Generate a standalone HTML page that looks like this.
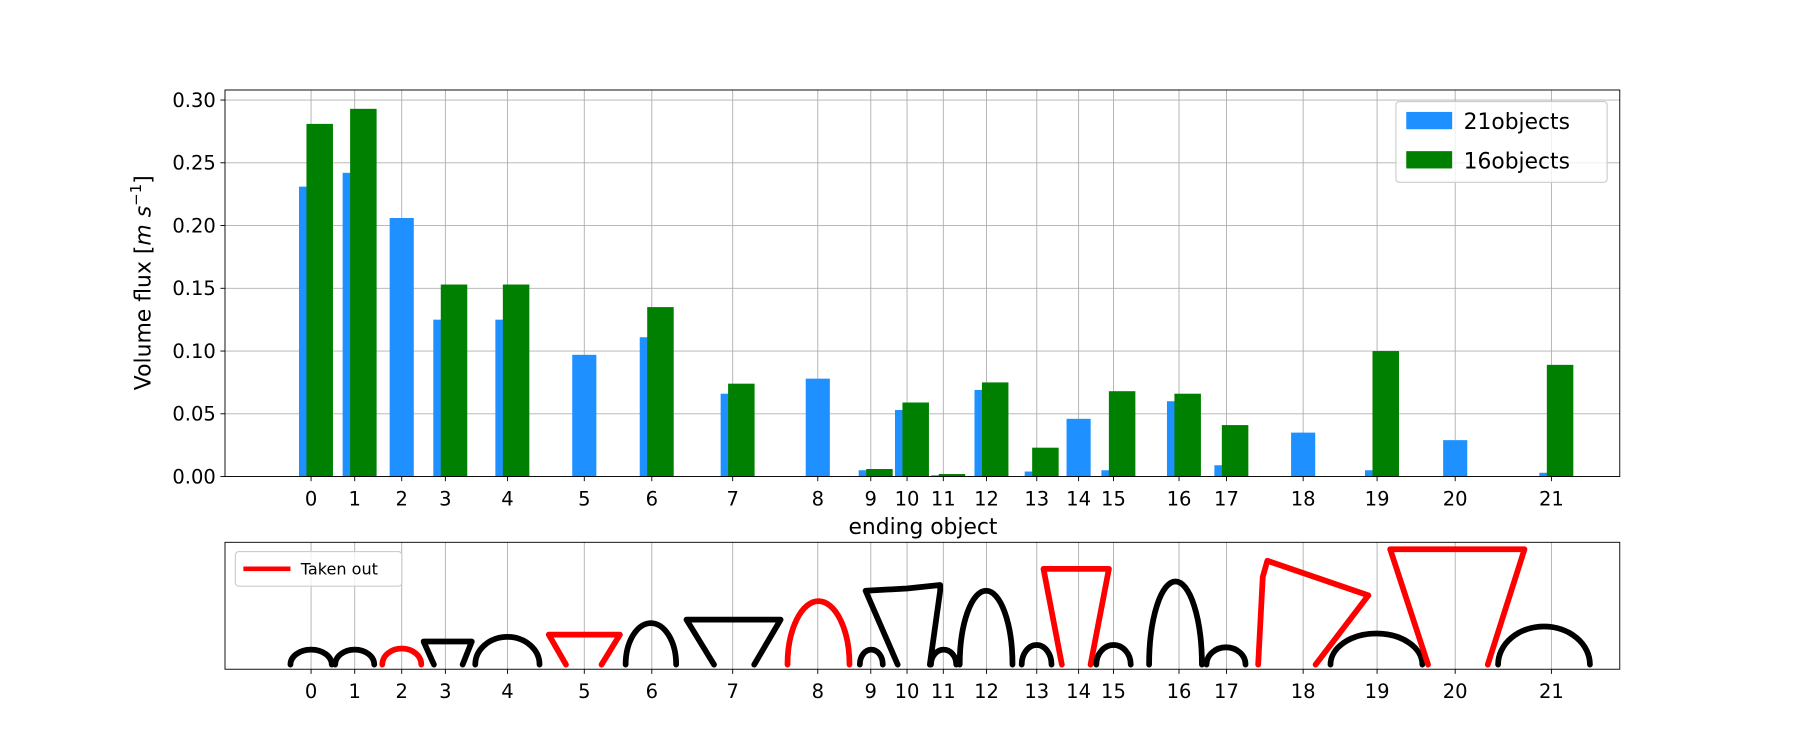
<!DOCTYPE html>
<html><head><meta charset="utf-8"><style>
html,body{margin:0;padding:0;background:#fff}
svg{display:block;font-family:"DejaVu Sans","Liberation Sans",sans-serif}
</style></head><body>
<svg id="chart" width="1800" height="750" viewBox="0 0 1568 650" preserveAspectRatio="none" xmlns="http://www.w3.org/2000/svg">
<g id="topPanel"></g>
<g id="botPanel"></g>
</svg>
<script>
const categories=[0,1,2,3,4,5,6,7,8,9,10,11,12,13,14,15,16,17,18,19,20,21];
const positions=[6.17,9.30,12.67,15.8,20.25,25.76,30.6,36.4,42.5,46.3,48.9,51.5,54.6,58.2,61.2,63.7,68.4,71.8,77.3,82.6,88.2,95.1];
const blueValues=[0.231,0.242,0.206,0.125,0.125,0.097,0.111,0.066,0.078,0.005,0.053,0.001,0.069,0.004,0.046,0.005,0.060,0.009,0.035,0.005,0.029,0.003];
const greenValues=[0.281,0.293,null,0.153,0.153,null,0.135,0.074,null,0.006,0.059,0.002,0.075,0.023,null,0.068,0.066,0.041,null,0.100,null,0.089];
const yTicks=[0,0.05,0.10,0.15,0.20,0.25,0.30];
const yTickLabels=["0.00","0.05","0.10","0.15","0.20","0.25","0.30"];
const takenOut=[2,5,8,14,18,20];
const NS="http://www.w3.org/2000/svg";
function mk(parent,tag,attrs,text){const e=document.createElementNS(NS,tag);for(const k in attrs)e.setAttribute(k,attrs[k]);if(text!==undefined)e.textContent=text;parent.appendChild(e);return e;}
const L=196,R=1411,T=78,B=413,YMAX=0.308;
const xs=p=>L+p/100*(R-L);
const ys=v=>B-v/YMAX*(B-T);
const topG=document.getElementById('topPanel');
yTicks.forEach((v,i)=>{
  const g=mk(topG,'line',{x1:L,x2:R,y1:ys(v),y2:ys(v),stroke:'#b0b0b0','stroke-width':0.8});
  
  
  mk(topG,'line',{x1:L-4,x2:L,y1:ys(v),y2:ys(v),stroke:'#000','stroke-width':0.8});
  const t=mk(topG,'text',{x:L-8,y:ys(v)+6,'text-anchor':'end','font-size':17},yTickLabels[i]);
  
  
});
categories.forEach((c,i)=>{
  const g=mk(topG,'line',{x1:xs(positions[i]),x2:xs(positions[i]),y1:T,y2:B,stroke:'#b0b0b0','stroke-width':0.8});
  
  
  mk(topG,'line',{x1:xs(positions[i]),x2:xs(positions[i]),y1:B,y2:B+4,stroke:'#000','stroke-width':0.8});
  const t=mk(topG,'text',{x:xs(positions[i]),y:B+25,'text-anchor':'middle','font-size':17},String(c));
  
  
});
const BW=1.73,GW=1.9,GOFF=0.62;
categories.forEach((c,i)=>{
  const b=blueValues[i];
  if(b!=null){const r=mk(topG,'rect',{x:xs(positions[i]-BW/2),y:ys(b),width:xs(BW)-L,height:B-ys(b),fill:'#1e90ff'});
    
    }
  const g=greenValues[i];
  if(g!=null){const r=mk(topG,'rect',{x:xs(positions[i]+GOFF-GW/2),y:ys(g),width:xs(GW)-L,height:B-ys(g),fill:'#008000'});
    
    }
});
mk(topG,'rect',{x:L,y:T,width:R-L,height:B-T,fill:'none',stroke:'#000','stroke-width':0.8});
const yl=mk(topG,'text',{transform:'translate(131,245) rotate(-90)','text-anchor':'middle','font-size':19});
mk(yl,'tspan',{},'Volume flux [');
mk(yl,'tspan',{'font-style':'italic'},'m s');
mk(yl,'tspan',{dy:-8,'font-size':13},'−1');
mk(yl,'tspan',{dy:8},']');


const xl=mk(topG,'text',{x:804,y:463,'text-anchor':'middle','font-size':19},'ending object');


const lg=mk(topG,'g',{});


mk(lg,'rect',{x:1216,y:88,width:184,height:70,rx:3,fill:'#fff','fill-opacity':0.8,stroke:'#ccc'});
mk(lg,'rect',{x:1225,y:97,width:40,height:15,fill:'#1e90ff'});
mk(lg,'text',{x:1275,y:112,'font-size':19},'21objects');
mk(lg,'rect',{x:1225,y:131,width:40,height:15,fill:'#008000'});
mk(lg,'text',{x:1275,y:146,'font-size':19},'16objects');

const botG=document.getElementById('botPanel');
const BT=470,BB=580,BASE=576;
categories.forEach((c,i)=>{
  mk(botG,'line',{x1:xs(positions[i]),x2:xs(positions[i]),y1:BT,y2:BB,stroke:'#b0b0b0','stroke-width':0.8});
  mk(botG,'line',{x1:xs(positions[i]),x2:xs(positions[i]),y1:BB,y2:BB+4,stroke:'#000','stroke-width':0.8});
  const t=mk(botG,'text',{x:xs(positions[i]),y:BB+25,'text-anchor':'middle','font-size':17},String(c));
  
  
});
const arc=(cx,w,h)=>`M${cx-w/2},${BASE} A${w/2},${h} 0 0 1 ${cx+w/2},${BASE}`;
const trap=(tl,tr,ty,bl,br)=>`M${bl},${BASE} L${tl},${ty} L${tr},${ty} L${br},${BASE}`;
const shapes=[arc(271,36,13),arc(309,34,13),arc(350,34,14),trap(369,411,556,378,403),arc(442,56,24),
trap(478,540,550,493,524),arc(567,44,36),trap(598,680,537,622,657),arc(713,54,55),arc(759,20,13),
'M810,576 L819,512 L819,507 L790,510 L754,512 L782,576',arc(822,22,13),arc(859,46,64),arc(903,26,17),
trap(909,966,493,925,950),arc(970,30,17),arc(1024,46,72),arc(1068,34,15),
'M1096,576 L1100,500 L1104,486 L1192,516 L1146,576',arc(1199,80,27),trap(1211,1328,476,1244,1296),arc(1345,80,33)];
shapes.forEach((d,i)=>{
  const p=mk(botG,'path',{d:d,fill:'none',stroke:takenOut.includes(i)?'#ff0000':'#000','stroke-width':5,'stroke-linejoin':'round','stroke-linecap':'round'});
  
  
});
mk(botG,'rect',{x:L,y:BT,width:R-L,height:BB-BT,fill:'none',stroke:'#000','stroke-width':0.8});
const bl=mk(botG,'g',{});


mk(bl,'rect',{x:205,y:478,width:145,height:30,rx:3,fill:'#fff','fill-opacity':0.8,stroke:'#ccc'});
mk(bl,'line',{x1:212,x2:253,y1:493,y2:493,stroke:'#ff0000','stroke-width':4});
mk(bl,'text',{x:262,y:498,'font-size':14},'Taken out');
</script>
</body></html>
